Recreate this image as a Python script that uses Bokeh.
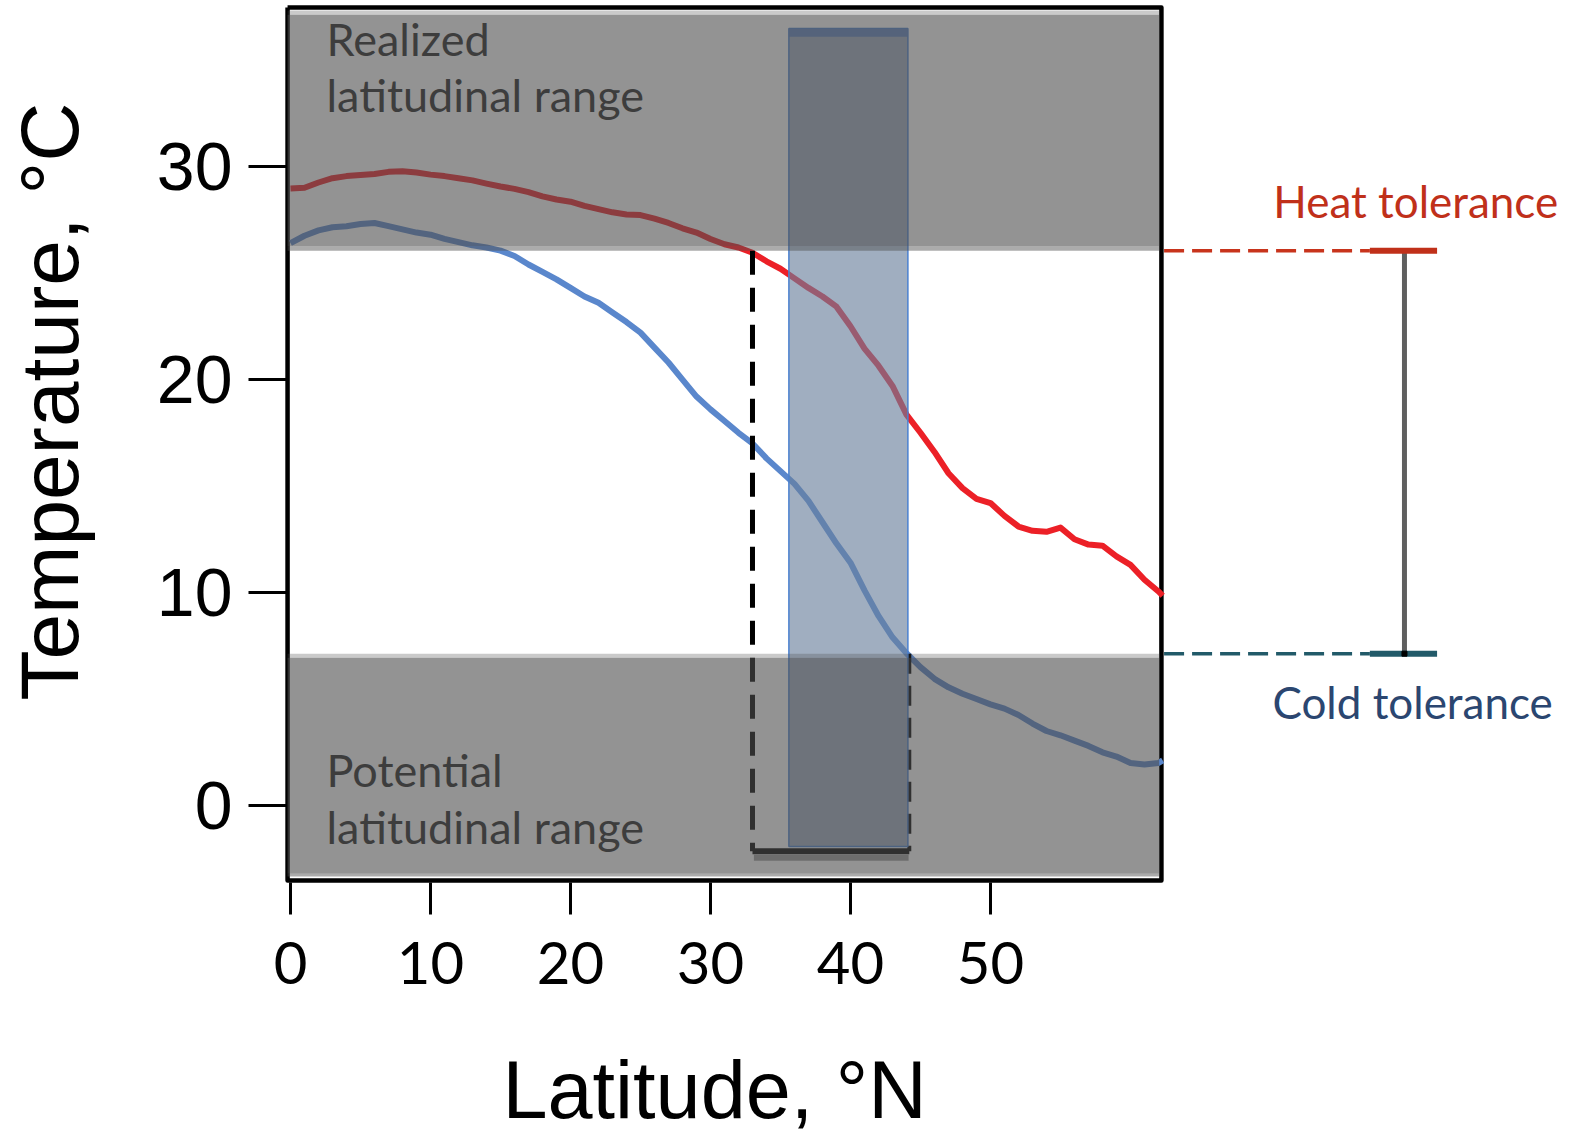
from bokeh.plotting import figure
from bokeh.models import FixedTicker, ColumnDataSource, Title, LinearAxis
from bokeh.core.properties import value
from bokeh.embed import file_html
from bokeh.resources import INLINE

# ---- data -------------------------------------------------------------
latitude = [0, 1, 2, 3, 4, 5, 6, 7, 8, 9, 10, 11, 12, 13, 14, 15, 16, 17, 18, 19,
            20, 21, 22, 23, 24, 25, 26, 27, 28, 29, 30, 31, 32, 33, 34, 35, 36, 37,
            38, 39, 40, 41, 42, 43, 44, 45, 46, 47, 48, 49, 50, 51, 52, 53, 54, 55,
            56, 57, 58, 59, 60, 61, 62, 62.3]

# warmest temperature (red) and coldest temperature (blue) by latitude, degC
t_max = [28.97, 29.0, 29.25, 29.45, 29.55, 29.6, 29.65, 29.75, 29.78, 29.72, 29.62,
         29.55, 29.45, 29.35, 29.2, 29.06, 28.95, 28.8, 28.6, 28.45, 28.35, 28.15,
         28.0, 27.85, 27.75, 27.72, 27.55, 27.35, 27.1, 26.9, 26.6, 26.35, 26.2,
         25.95, 25.55, 25.2, 24.75, 24.3, 23.9, 23.42, 22.5, 21.45, 20.65, 19.7, 18.35,
         17.5, 16.6, 15.6, 14.9, 14.4, 14.2, 13.6, 13.1, 12.9, 12.85, 13.05, 12.5,
         12.25, 12.2, 11.7, 11.3, 10.6, 10.05, 9.85]
t_min = [26.4, 26.75, 27.0, 27.15, 27.2, 27.3, 27.35, 27.2, 27.05, 26.9, 26.8,
         26.6, 26.45, 26.3, 26.2, 26.05, 25.8, 25.4, 25.05, 24.7, 24.3, 23.9,
         23.6, 23.15, 22.7, 22.2, 21.5, 20.8, 20.0, 19.2, 18.6, 18.05, 17.5, 17.0,
         16.3, 15.7, 15.1, 14.3, 13.3, 12.3, 11.4, 10.1, 8.9, 7.9, 7.15, 6.5, 5.95,
         5.55, 5.25, 5.0, 4.75, 4.55, 4.25, 3.85, 3.5, 3.3, 3.05, 2.8, 2.5, 2.3, 2.0,
         1.93, 2.0, 2.12]

heat_tolerance = 26.05
cold_tolerance = 7.13
potential_range = [33.0, 44.2]
realized_range = [35.6, 44.1]

x_ticks = [0, 10, 20, 30, 40, 50]
y_ticks = [0, 10, 20, 30]

# ---- figure -----------------------------------------------------------
X0, X1 = -0.714, 91.43
Y0, Y1 = -3.80, 37.70
p = figure(width=1570, height=1136, x_range=(X0, X1), y_range=(Y0, Y1),
           output_backend="svg", toolbar_location=None,
           min_border_left=280, min_border_right=0,
           min_border_top=2, min_border_bottom=250)
p.xgrid.visible = False
p.ygrid.visible = False
p.outline_line_color = None
p.background_fill_color = "white"

# box edges of the panel
bl, br, bb, bt = -0.21, 62.21, -3.52, 37.46
p.line([bl, bl, br, br, bl], [bt, bb, bb, bt, bt], line_color="black",
       line_width=4.5, line_join="round")

# temperature curves
src = ColumnDataSource(dict(lat=latitude, tmax=t_max, tmin=t_min))
p.line("lat", "tmax", source=src, line_color="#ec2027", line_width=6, line_join="round")
p.line("lat", "tmin", source=src, line_color="#5a87cc", line_width=6, line_join="round")

# potential range: dashed guides and bar
bar_y = -2.15
p.line([potential_range[0]] * 2, [heat_tolerance, bar_y], line_color="black",
       line_width=5, line_dash="24 13")
p.line([potential_range[1]] * 2, [cold_tolerance, bar_y], line_color="black",
       line_width=4, line_dash="20 12")
p.line([potential_range[0] + 0.1, potential_range[1] - 0.05], [bar_y - 0.3] * 2,
       line_color="#9e9e9e", line_width=6)
p.line(potential_range, [bar_y, bar_y], line_color="black", line_width=6)

# realized range band
band_top, band_bot = 36.48, -1.92
p.quad(left=[realized_range[0]], right=[realized_range[1]], bottom=[band_bot], top=[band_top],
       fill_color="#687f9b", fill_alpha=0.63, line_color="#4a80d0", line_width=1.5)
p.line(realized_range, [band_top - 0.2] * 2, line_color="#5a80c0", line_width=8, line_alpha=0.9)

# shaded zones beyond the tolerance limits
shade = "#4f4f4f"
gx0, gx1 = -0.21, 62.05
p.quad(left=[gx0, gx0], right=[gx1, gx1], bottom=[heat_tolerance + 0.19, -3.2],
       top=[37.12, cold_tolerance - 0.19], fill_color=shade, fill_alpha=0.61, line_color=None)
p.quad(left=[gx0, gx0], right=[gx1, gx1], bottom=[37.12, cold_tolerance - 0.19],
       top=[37.32, cold_tolerance], fill_color=shade, fill_alpha=0.3, line_color=None)
p.quad(left=[gx0, gx0], right=[gx1, gx1], bottom=[heat_tolerance, -3.33],
       top=[heat_tolerance + 0.19, -3.2], fill_color=shade, fill_alpha=0.48, line_color=None)

# zone captions
p.text(x=[2.57, 2.57, 2.57, 2.57], y=[35.97, 33.34, 1.65, -1.03],
       text=["Realized", "latitudinal range", "Potential", "latitudinal range"],
       text_font=value("Lato"), text_font_size=value("45px"), text_color="#3d3d3d",
       text_baseline="alphabetic", text_align="left")

# tolerance markers to the right of the panel
dash_x = [62.4, 77.1]
cap_x = [77.1, 81.9]
bar_x = 79.57
p.line(dash_x, [heat_tolerance] * 2, line_color="#c8341c", line_width=3.5, line_dash="20 8")
p.line(dash_x, [cold_tolerance] * 2, line_color="#225a69", line_width=3.5, line_dash="20 8")
p.line([bar_x, bar_x], [heat_tolerance, cold_tolerance], line_color="#5f5f5f", line_width=5)
p.line(cap_x, [heat_tolerance] * 2, line_color="#c0301a", line_width=6)
p.line(cap_x, [cold_tolerance] * 2, line_color="#225a69", line_width=6)
p.scatter([bar_x], [cold_tolerance], marker="square", size=5, color="black")
p.text(x=[70.2], y=[28.4], text=["Heat tolerance"], text_font=value("Lato"),
       text_font_size=value("44px"), text_color="#c0301a", text_baseline="alphabetic")
p.text(x=[70.14], y=[4.84], text=["Cold tolerance"], text_font=value("Lato"),
       text_font_size=value("44px"), text_color="#2b4670", text_baseline="alphabetic")

# axes
ya = p.yaxis[0]
ya.ticker = FixedTicker(ticks=y_ticks)
ya.axis_line_color = None
ya.minor_tick_line_color = None
ya.major_tick_line_width = 3
ya.major_tick_out = 32
ya.major_tick_in = 6
ya.major_label_standoff = 16
ya.major_label_text_font = "Liberation Sans"
ya.major_label_text_font_size = "68px"
ya.major_label_text_color = "black"

xa = p.xaxis[0]
xa.ticker = FixedTicker(ticks=x_ticks)
xa.axis_line_color = None
xa.minor_tick_line_color = None
xa.major_tick_line_width = 3
xa.major_tick_out = 28
xa.major_tick_in = 4
xa.major_label_standoff = 27
xa.major_label_text_font = "Lato"
xa.major_label_text_font_size = "58px"
xa.major_label_text_color = "black"


def gap_axis(size, at):
    # unlabelled axis with an invisible tick: it only reserves room for the title
    return LinearAxis(ticker=FixedTicker(ticks=[at]), major_label_overrides={at: ""},
                      major_label_standoff=0, major_tick_out=size, major_tick_in=0,
                      minor_tick_out=0, minor_tick_in=0, axis_line_color=None,
                      major_tick_line_color=None, minor_tick_line_color=None)


p.add_layout(gap_axis(56, 20), "below")
p.add_layout(gap_axis(59, 15), "left")

# axis titles
p.add_layout(Title(text="Latitude, °N", align="left", offset=222,
                   text_font="Liberation Sans", text_font_size="81px",
                   text_font_style="normal", text_color="black", standoff=0), "below")
p.add_layout(Title(text="Temperature, °C", align="left", offset=186,
                   text_font="Liberation Sans", text_font_size="82px",
                   text_font_style="normal", text_color="black", standoff=0), "left")

open("out.html", "w").write(file_html(p, INLINE))
